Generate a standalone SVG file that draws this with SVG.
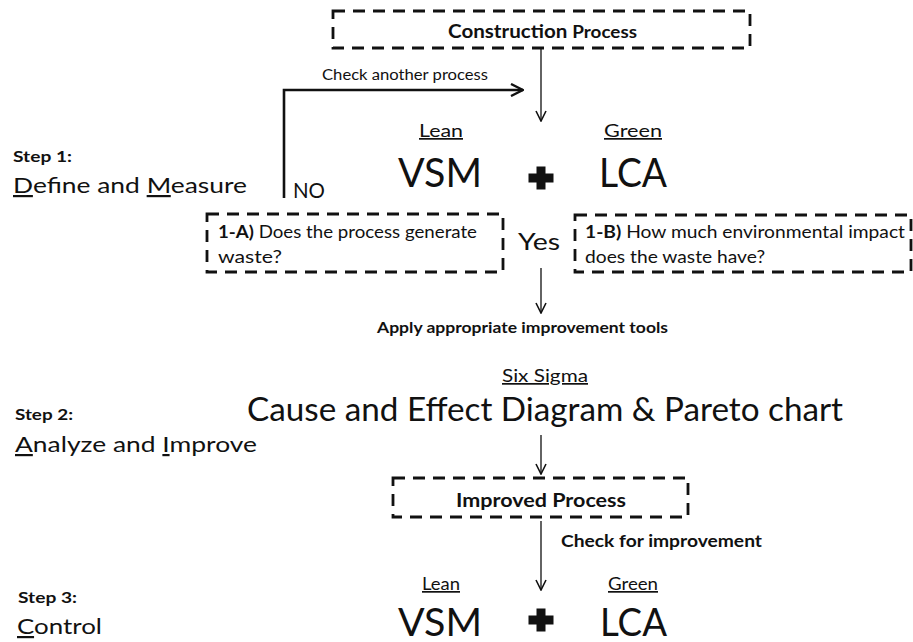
<svg xmlns="http://www.w3.org/2000/svg" width="913" height="642" viewBox="0 0 913 642">
<style>
text{font-family:Lato,"Open Sans","Liberation Sans",sans-serif;fill:#111}
.b{font-weight:bold}
.box{fill:none;stroke:#111;stroke-width:2.8;stroke-dasharray:12 8}
.thin{fill:none;stroke:#222;stroke-width:1.4}
.thick{fill:none;stroke:#111;stroke-width:2.6}
.u{text-decoration:underline}
.plus{fill:#111}
</style>
<defs>
<marker id="ah" viewBox="0 0 12 12" refX="11" refY="6" markerWidth="12" markerHeight="12" markerUnits="userSpaceOnUse" orient="auto">
<path d="M1,1 L11,6 L1,11" fill="none" stroke="#111" stroke-width="1.6"/>
</marker>
<marker id="ah2" viewBox="0 0 14 14" refX="13" refY="7" markerWidth="14" markerHeight="14" markerUnits="userSpaceOnUse" orient="auto">
<path d="M1,1 L13,7 L1,13" fill="none" stroke="#111" stroke-width="2.4"/>
</marker>
<path id="plusShape" d="M-4.5,-11.5 H4.5 V-4.5 H12.5 V4.5 H4.5 V11.5 H-4.5 V4.5 H-12.5 V-4.5 H-4.5 Z"/>
</defs>

<g id="connectors">
<line class="thin" x1="541" y1="48" x2="541" y2="121" marker-end="url(#ah)"/>
<polyline class="thick" points="284,198 284,90 523,90" marker-end="url(#ah2)"/>
<line class="thin" x1="541" y1="268" x2="541" y2="313" marker-end="url(#ah)"/>
<line class="thin" x1="541" y1="435" x2="541" y2="474" marker-end="url(#ah)"/>
<line class="thin" x1="541" y1="521" x2="541" y2="590" marker-end="url(#ah)"/>
<text x="322" y="80" font-size="15.5" textLength="166" lengthAdjust="spacingAndGlyphs">Check another process</text>
<text x="293" y="198" font-size="21" textLength="32" lengthAdjust="spacingAndGlyphs">NO</text>
<text x="518" y="250" font-size="23" textLength="42" lengthAdjust="spacingAndGlyphs">Yes</text>
<text class="b" x="377" y="333" font-size="16" textLength="291" lengthAdjust="spacingAndGlyphs">Apply appropriate improvement tools</text>
<text class="b" x="561" y="547" font-size="17" textLength="201" lengthAdjust="spacingAndGlyphs">Check for improvement</text>
</g>

<g id="construction-process">
<rect class="box" x="333" y="11" width="417" height="37"/>
<text class="b" x="448" y="38" font-size="18" textLength="189" lengthAdjust="spacingAndGlyphs">Construction <tspan font-size="16.5">Process</tspan></text>
</g>

<g id="step1">
<text class="b" x="13" y="162" font-size="15" textLength="59" lengthAdjust="spacingAndGlyphs">Step 1:</text>
<text x="13" y="193" font-size="22" textLength="234" lengthAdjust="spacingAndGlyphs"><tspan class="u">D</tspan>efine and <tspan class="u">M</tspan>easure</text>
</g>

<g id="lean-green-1">
<text class="u" x="419" y="137" font-size="17" textLength="44" lengthAdjust="spacingAndGlyphs">Lean</text>
<text class="u" x="604" y="137" font-size="17" textLength="58" lengthAdjust="spacingAndGlyphs">Green</text>
<text x="398" y="187" font-size="40" textLength="84" lengthAdjust="spacingAndGlyphs">VSM</text>
<use href="#plusShape" class="plus" x="541" y="178"/>
<text x="599" y="187" font-size="40" textLength="68" lengthAdjust="spacingAndGlyphs">LCA</text>
</g>

<g id="box-1a">
<rect class="box" x="207" y="214" width="296" height="58"/>
<text x="218" y="238" font-size="16.5" textLength="259" lengthAdjust="spacingAndGlyphs"><tspan class="b">1-A)</tspan> Does the process generate</text>
<text x="218" y="263" font-size="16.5" textLength="64" lengthAdjust="spacingAndGlyphs">waste?</text>
</g>

<g id="box-1b">
<rect class="box" x="575" y="215" width="336" height="57"/>
<text x="585" y="238" font-size="16.5" textLength="320" lengthAdjust="spacingAndGlyphs"><tspan class="b">1-B)</tspan> How much environmental impact</text>
<text x="585" y="263" font-size="16.5" textLength="180" lengthAdjust="spacingAndGlyphs">does the waste have?</text>
</g>

<g id="six-sigma">
<text class="u" x="502" y="382" font-size="17" textLength="86" lengthAdjust="spacingAndGlyphs">Six Sigma</text>
<text x="247" y="421" font-size="32" textLength="596" lengthAdjust="spacingAndGlyphs">Cause and Effect Diagram &amp; Pareto chart</text>
</g>

<g id="step2">
<text class="b" x="15" y="420" font-size="15" textLength="58" lengthAdjust="spacingAndGlyphs">Step 2:</text>
<text x="15" y="452" font-size="22" textLength="242" lengthAdjust="spacingAndGlyphs"><tspan class="u">A</tspan>nalyze and <tspan class="u">I</tspan>mprove</text>
</g>

<g id="improved-process">
<rect class="box" x="393" y="478" width="295" height="39"/>
<text class="b" x="456" y="507" font-size="18" textLength="170" lengthAdjust="spacingAndGlyphs">Improved Process</text>
</g>

<g id="lean-green-2">
<text class="u" x="422" y="590" font-size="17" textLength="38" lengthAdjust="spacingAndGlyphs">Lean</text>
<text class="u" x="608" y="590" font-size="17" textLength="50" lengthAdjust="spacingAndGlyphs">Green</text>
<text x="398" y="636" font-size="38" textLength="84" lengthAdjust="spacingAndGlyphs">VSM</text>
<use href="#plusShape" class="plus" x="541" y="620"/>
<text x="600" y="636" font-size="38" textLength="67" lengthAdjust="spacingAndGlyphs">LCA</text>
</g>

<g id="step3">
<text class="b" x="18" y="603" font-size="15" textLength="59" lengthAdjust="spacingAndGlyphs">Step 3:</text>
<text x="17" y="634" font-size="22" textLength="85" lengthAdjust="spacingAndGlyphs"><tspan class="u">C</tspan>ontrol</text>
</g>
</svg>
